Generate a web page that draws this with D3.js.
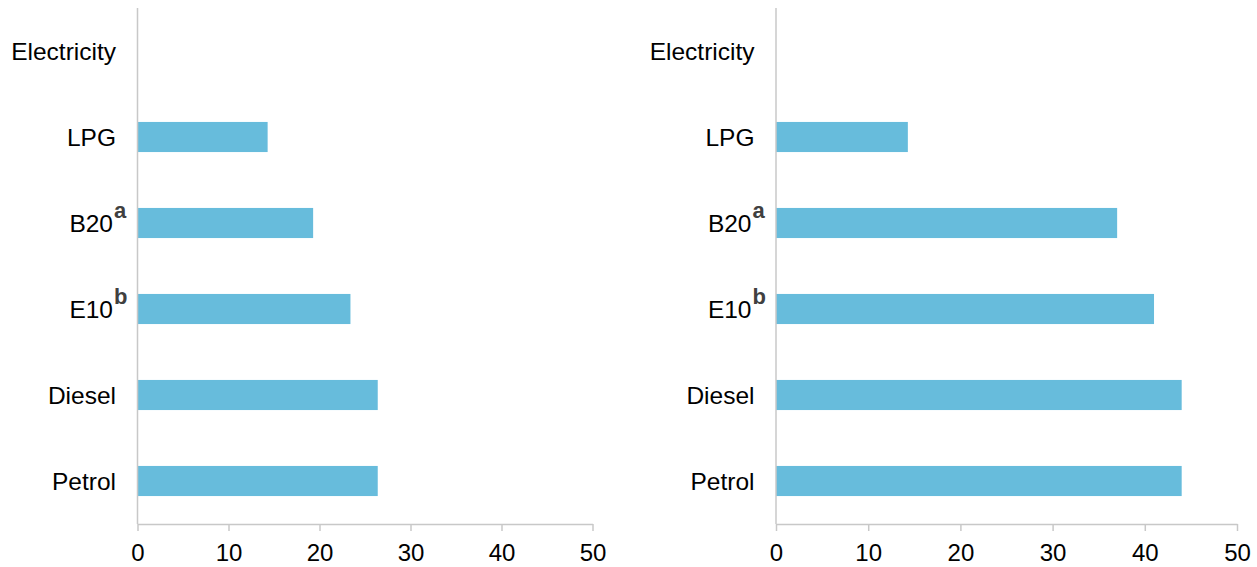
<!DOCTYPE html>
<html>
<head>
<meta charset="utf-8">
<script src="https://cdn.jsdelivr.net/npm/d3@7"></script>
<style>
  html, body { margin: 0; padding: 0; background: #fff; }
  svg { display: block; font-family: "Liberation Sans", Arial, sans-serif; }
</style>
</head>
<body>
<svg id="chart" width="1257" height="567"></svg>
<script>
// ---- data ----
const categories = ["Electricity", "LPG", "B20", "E10", "Diesel", "Petrol"];
const superscripts = ["", "", "a", "b", "", ""];
const leftValues = [null, 14.3, 19.3, 23.4, 26.4, 26.4];
const rightValues = [null, 14.3, 37.0, 41.0, 44.0, 44.0];
const xTicks = [0, 10, 20, 30, 40, 50];

const svg = d3.select("#chart");
const barColor = "#67bcdc";
const axisColor = "#c8c8c8";

const panels = [
  { values: leftValues, x0: 137.5, x1: 592.5 },
  { values: rightValues, x0: 776, x1: 1237 }
];

const y = d3.scaleBand()
  .domain(categories)
  .range([8, 524])
  .paddingInner(0.65)
  .paddingOuter(0.325);

panels.forEach(p => {
  const g = svg.append("g");
  const x = d3.scaleLinear().domain([0, 50]).range([p.x0, p.x1]);

  // bars
  g.selectAll("rect.bar")
    .data(categories.map((c, i) => ({ c, v: p.values[i] })).filter(d => d.v != null))
    .enter().append("rect")
    .attr("class", "bar")
    .attr("x", x(0))
    .attr("y", d => y(d.c))
    .attr("width", d => x(d.v) - x(0))
    .attr("height", y.bandwidth())
    .attr("fill", barColor);

  // x axis
  const xAxis = d3.axisBottom(x)
    .tickValues(xTicks)
    .tickSize(7)
    .tickSizeOuter(0)
    .tickPadding(13);
  const ax = g.append("g").attr("transform", "translate(0,524)").call(xAxis);
  ax.select(".domain").attr("stroke", axisColor).attr("stroke-width", 1.5);
  ax.selectAll(".tick line").attr("stroke", axisColor).attr("stroke-width", 1.5);
  ax.selectAll(".tick text")
    .attr("fill", "#000")
    .style("font-size", "24px")
    .style("font-family", "'Liberation Sans', Arial, sans-serif");

  // y axis line
  g.append("line")
    .attr("x1", x(0)).attr("x2", x(0))
    .attr("y1", 8).attr("y2", 524)
    .attr("stroke", axisColor).attr("stroke-width", 1.5);

  // category labels
  categories.forEach((c, i) => {
    const cy = y(c) + y.bandwidth() / 2;
    const sup = superscripts[i];
    const endX = sup ? x(0) - 24.5 : x(0) - 21.5;
    g.append("text")
      .attr("x", endX)
      .attr("y", cy)
      .attr("dy", "0.36em")
      .attr("text-anchor", "end")
      .attr("fill", "#000")
      .style("font-size", "24.5px")
      .text(c);
    if (sup) {
      g.append("text")
        .attr("x", endX + 1)
        .attr("y", cy - 5)
        .attr("text-anchor", "start")
        .attr("fill", "#404040")
        .style("font-size", "22px")
        .style("font-weight", "bold")
        .text(sup);
    }
  });
});
</script>
</body>
</html>
